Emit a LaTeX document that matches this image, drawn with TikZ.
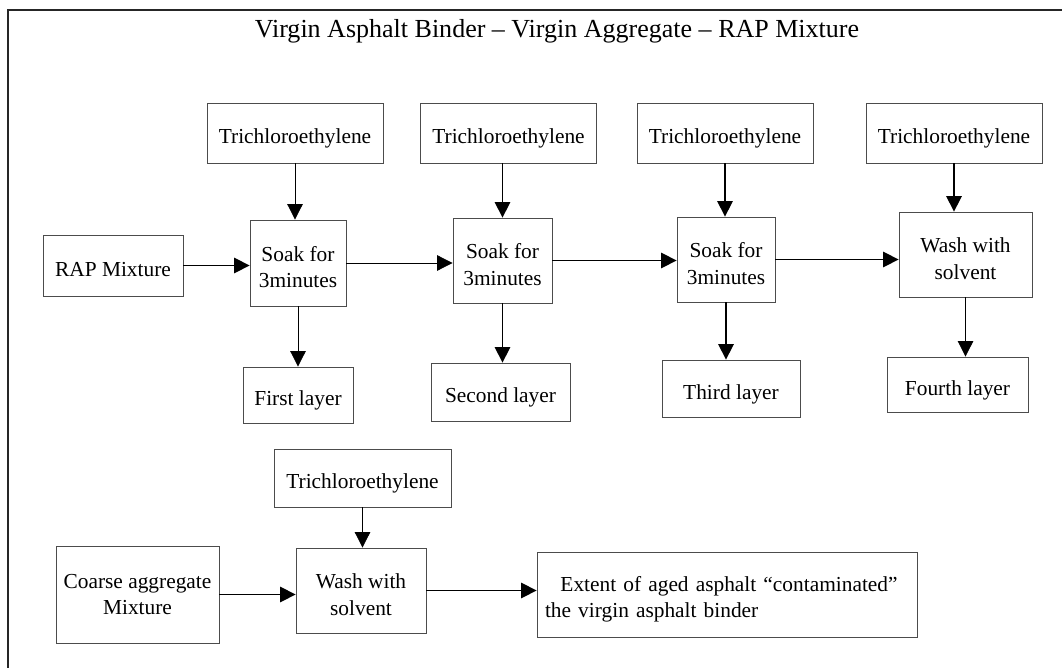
\documentclass[tikz,border=0pt]{standalone}
\usepackage{fontspec}
\setmainfont{Liberation Serif}
\usetikzlibrary{arrows.meta,positioning}
\newlength{\pixlen}
\setlength{\pixlen}{0.025cm}
\tikzset{
  box/.style={draw=black!70, line width=0.6pt, inner sep=2pt, align=center,
    font=\fontsize{15.2}{18.5}\selectfont},
  onebox/.style={box, text height=18.5pt, text depth=3.5pt},
  twobox/.style={box, text height=35pt},
  arr/.style={-{Triangle[length=11pt,width=11pt]}, line width=0.6pt},
  heavyarr/.style={arr, line width=1.1pt},
}

\begin{document}
\begin{tikzpicture}[x=0.025cm,y=-0.025cm]
\useasboundingbox (0,0) rectangle (1062,668);
% the outer frame
\draw[line width=1.2pt, black!85] (8,668) |- (1062,10);
% the title
\node[font=\fontsize{18.5}{22}\selectfont] (title) at (557,31) {Virgin Asphalt Binder -- Virgin Aggregate -- RAP Mixture};
% the solvent boxes
\foreach \n/\x in {1/295,2/508.5,3/725,4/954}
  \node[onebox, minimum width=176\pixlen, minimum height=60\pixlen] (tri\n) at (\x,133) {Trichloroethylene};
% the soaking steps
\node[onebox, minimum width=140\pixlen, minimum height=61\pixlen] (rap) at (113,265.5) {RAP Mixture};
\node[twobox, minimum width=96\pixlen, minimum height=86\pixlen] (soak1) at (298,263) {Soak for\\3minutes};
\node[twobox, minimum width=99\pixlen, minimum height=85\pixlen] (soak2) at (502.5,260.5) {Soak for\\3minutes};
\node[twobox, minimum width=98\pixlen, minimum height=85\pixlen] (soak3) at (726,259.5) {Soak for\\3minutes};
\node[twobox, minimum width=133\pixlen, minimum height=85\pixlen] (wash1) at (965.5,254.5) {Wash with\\solvent};
% the layers
\node[onebox, minimum width=110\pixlen, minimum height=56\pixlen] (first) at (298,395) {First layer};
\node[onebox, minimum width=139\pixlen, minimum height=58\pixlen] (second) at (500.5,392) {Second layer};
\node[onebox, minimum width=138\pixlen, minimum height=57\pixlen] (third) at (731,388.5) {Third layer};
\node[onebox, minimum width=141\pixlen, minimum height=55\pixlen] (fourth) at (957.5,384.5) {Fourth layer};
% the coarse aggregate row
\node[onebox, minimum width=177\pixlen, minimum height=58\pixlen] (tri5) at (362.5,478) {Trichloroethylene};
\node[box, minimum width=163\pixlen, minimum height=97\pixlen] (coarse) at (137.5,594.5) {Coarse aggregate\\Mixture};
\node[twobox, minimum width=130\pixlen, minimum height=85\pixlen] (wash2) at (361,590.5) {Wash with\\solvent};
\node[box, align=left, text width=364\pixlen, text height=17.5pt, inner xsep=8\pixlen, minimum height=85\pixlen] (extent) at (727,594.5)
  {\hspace*{11pt}Extent of aged asphalt “contaminated”\\the virgin asphalt binder};
% solvent into each step
\draw[arr] (tri1) -- (tri1 |- soak1.north);
\draw[heavyarr] (soak2 |- tri2.south) -- (soak2);
\draw[heavyarr] (tri3) -- (tri3 |- soak3.north);
\draw[heavyarr] (tri4) -- (tri4 |- wash1.north);
\draw[arr] (tri5) -- (tri5 |- wash2.north);
% from step to step
\draw[heavyarr] (rap) -- (rap -| soak1.west);
\draw[arr] (soak1) -- (soak1 -| soak2.west);
\draw[heavyarr] (soak2) -- (soak2 -| soak3.west);
\draw[heavyarr] (soak3) -- (soak3 -| wash1.west);
\draw[heavyarr] (coarse) -- (coarse -| wash2.west);
\draw[heavyarr] (wash2) -- (wash2 -| extent.west);
% down to the layers
\draw[arr] (soak1) -- (soak1 |- first.north);
\draw[heavyarr] (soak2) -- (soak2 |- second.north);
\draw[heavyarr] (soak3) -- (soak3 |- third.north);
\draw[arr] (wash1) -- (wash1 |- fourth.north);
\end{tikzpicture}
\end{document}
